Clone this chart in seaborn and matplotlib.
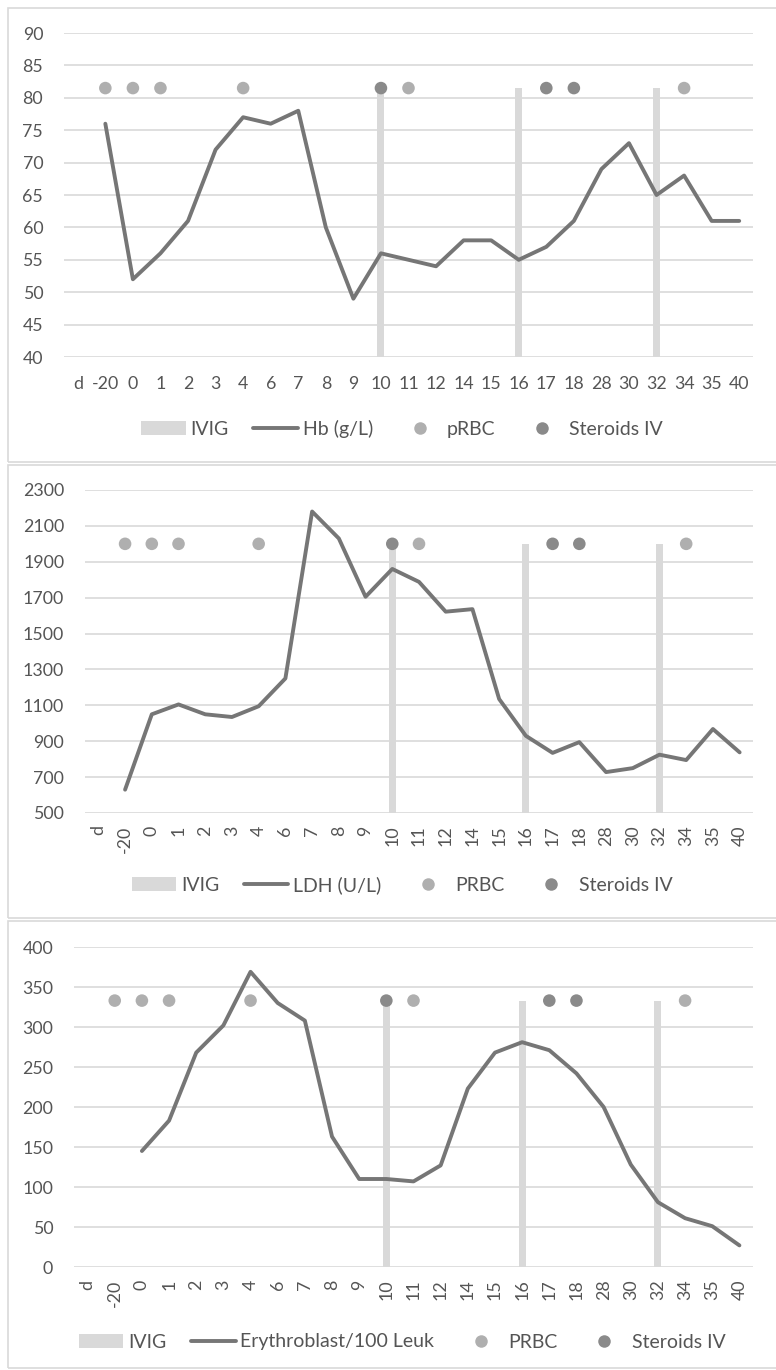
import numpy as np
import pandas as pd
import matplotlib
matplotlib.use("Agg")
import matplotlib.pyplot as plt
import seaborn as sns
from matplotlib.patches import Rectangle, Patch
from matplotlib.lines import Line2D

# ---------------- data ----------------
days = ['d', '-20', '0', '1', '2', '3', '4', '6', '7', '8', '9', '10', '11',
        '12', '14', '15', '16', '17', '18', '28', '30', '32', '34', '35', '40']

hb = [np.nan, 76, 52, 56, 61, 72, 77, 76, 78, 60, 49, 56, 55,
      54, 58, 58, 55, 57, 61, 69, 73, 65, 68, 61, 61]

ldh = [np.nan, 630, 1050, 1105, 1050, 1035, 1095, 1250, 2180, 2030, 1705, 1860, 1788,
       1622, 1636, 1135, 930, 835, 895, 728, 750, 825, 795, 968, 838]

erythro = [np.nan, np.nan, 145, 183, 268, 302, 369, 330, 308, 163, 110, 110, 107,
           127, 223, 268, 281, 271, 242, 200, 128, 81, 61, 51, 27]

ivig_days = ['10', '16', '32']
prbc_days = ['-20', '0', '1', '4', '11', '34']
steroid_days = ['10', '17', '18']

hb_event_level = 81.5
ldh_event_level = 2000
erythro_event_level = 333

hb_ticks = [40, 45, 50, 55, 60, 65, 70, 75, 80, 85, 90]
ldh_ticks = [500, 700, 900, 1100, 1300, 1500, 1700, 1900, 2100, 2300]
erythro_ticks = [0, 50, 100, 150, 200, 250, 300, 350, 400]

# ---------------- style ----------------
sns.set_theme(style="white")
plt.rcParams['font.family'] = ['Lato', 'DejaVu Sans']

TEXT = '#555555'
GRID = '#d9d9d9'
BAR = '#d9d9d9'
LINE = '#767676'
PRBC = '#afafaf'
STER = '#8a8a8a'

W, H = 776, 1370
fig = plt.figure(figsize=(W / 100, H / 100), dpi=100)
fig.patch.set_facecolor('white')


def px_axes(left, right, top, bottom):
    return fig.add_axes([left / W, 1 - bottom / H, (right - left) / W, (bottom - top) / H])


def border(top, bottom, left=8):
    fig.patches.append(Rectangle((left / W, 1 - bottom / H), (W + 20 - left) / W,
                                 (bottom - top) / H, transform=fig.transFigure,
                                 facecolor='none', edgecolor=GRID, linewidth=1.2,
                                 clip_on=False))


def panel(ax, values, level, yticks, series_label, prbc_label, rotate, xpad,
          legend_y, barw):
    pos = np.arange(len(days))
    df = pd.DataFrame({'pos': pos, 'value': values})
    df['ivig'] = [level if d in ivig_days else np.nan for d in days]

    sns.barplot(data=df, x='pos', y='ivig', order=list(pos), width=barw,
                color=BAR, saturation=1, errorbar=None, ax=ax, zorder=2,
                linewidth=0)
    sns.lineplot(data=df, x='pos', y='value', color=LINE, linewidth=2.8,
                 sort=False, ax=ax, zorder=3)
    ppos = [days.index(d) for d in prbc_days]
    spos = [days.index(d) for d in steroid_days]
    sns.scatterplot(x=ppos, y=[level] * len(ppos), color=PRBC, s=82,
                    edgecolor='none', ax=ax, zorder=4)
    sns.scatterplot(x=spos, y=[level] * len(spos), color=STER, s=82,
                    edgecolor='none', ax=ax, zorder=4)

    ax.set_xlim(-0.5, len(days) - 0.5)
    ax.set_ylim(yticks[0], yticks[-1])
    ax.set_yticks(yticks)
    ax.set_yticklabels([str(t) for t in yticks])
    ax.set_xticks(pos)
    ax.set_xticklabels(days, rotation=90 if rotate else 0)
    ax.set_xlabel('')
    ax.set_ylabel('')
    for s in ax.spines.values():
        s.set_visible(False)
    ax.yaxis.grid(True, color=GRID, linewidth=1.2)
    ax.xaxis.grid(False)
    ax.set_axisbelow(True)
    ax.tick_params(axis='y', length=0, pad=15, labelsize=12.8, labelcolor=TEXT)
    ax.tick_params(axis='x', length=0, pad=xpad, labelsize=12.8, labelcolor=TEXT)
    if ax.get_legend() is not None:
        ax.get_legend().remove()

    handles = [Patch(facecolor=BAR, edgecolor='none'),
               Line2D([], [], color=LINE, linewidth=2.8),
               Line2D([], [], linestyle='none', marker='o', markersize=9,
                      markerfacecolor=PRBC, markeredgecolor='none'),
               Line2D([], [], linestyle='none', marker='o', markersize=9,
                      markerfacecolor=STER, markeredgecolor='none')]
    labels = ['IVIG', series_label, prbc_label, 'Steroids IV']
    fig.legend(handles, labels, loc='center', bbox_to_anchor=(402 / W, 1 - legend_y / H),
               bbox_transform=fig.transFigure, ncol=4, frameon=False, fontsize=14,
               handlelength=2.3, handletextpad=0.25, columnspacing=1.25,
               labelcolor=TEXT, borderaxespad=0, borderpad=0)


# panel frames
border(8, 462)
border(465, 918)
border(921, 1368)

ax1 = px_axes(64, 753, 33, 357)
panel(ax1, hb, hb_event_level, hb_ticks, 'Hb (g/L)', 'pRBC', False, 14, 429, 0.25)

ax2 = px_axes(85, 753, 490, 813)
panel(ax2, ldh, ldh_event_level, ldh_ticks, 'LDH (U/L)', 'PRBC', True, 9, 885, 0.27)

ax3 = px_axes(74, 753, 947, 1267)
panel(ax3, erythro, erythro_event_level, erythro_ticks, 'Erythroblast/100 Leuk', 'PRBC',
      True, 9, 1342, 0.26)

fig.savefig('out.png', dpi=100, facecolor='white')
